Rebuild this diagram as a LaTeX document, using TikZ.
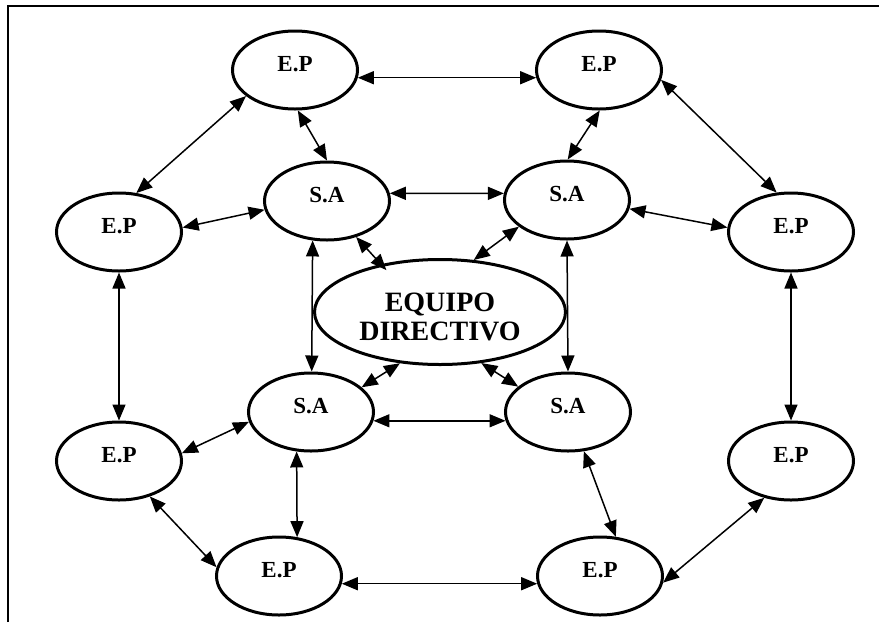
\documentclass[tikz,border=0pt]{standalone}
\usepackage{fontspec}
\setmainfont{Liberation Serif}
\usetikzlibrary{shapes.geometric,arrows.meta}
\tikzset{
  ep/.style={ellipse,draw,line width=3pt,minimum width=125pt,minimum height=78pt,
    font=\fontsize{23}{26}\selectfont\bfseries,text height=9pt,text depth=7pt},
  mainbox/.style={ellipse,draw,line width=3pt,minimum width=251pt,minimum height=105pt},
  maintext/.style={align=center,font=\fontsize{28}{29}\selectfont\bfseries,yshift=-5pt},
  link/.style={line width=1.5pt,{Triangle[length=16pt,width=13pt]}-{Triangle[length=16pt,width=13pt]}}
}
\begin{document}
\begin{tikzpicture}[x=1pt,y=1pt]
\useasboundingbox (0,0) rectangle (879,-622);
\draw[line width=1.2pt] (8,-622) -- (8,-6) -- (879,-6);
\node[ep] (ept1) at (295,-70) {E.P};
\node[ep] (ept2) at (599,-70) {E.P};
\node[ep] (sat1) at (327,-201) {S.A};
\node[ep] (sat2) at (567,-200) {S.A};
\node[ep] (epl1) at (119,-232) {E.P};
\node[ep] (epr1) at (791,-232) {E.P};
\node[mainbox,label={[maintext]center:{EQUIPO\\DIRECTIVO}}] (ed) at (440,-312) {};
\node[ep] (sab1) at (311,-412) {S.A};
\node[ep] (sab2) at (568,-412) {S.A};
\node[ep] (epl2) at (119,-461) {E.P};
\node[ep] (epr2) at (791,-461) {E.P};
\node[ep] (epb1) at (279,-576) {E.P};
\node[ep] (epb2) at (600,-576) {E.P};
\draw[link] (ept1.-7) -- (ept2.187);
\draw[link] (ept1.-86) -- (sat1.90);
\draw[link] (ept2.-89) -- (sat2.89);
\draw[link] (sat1.7) -- (sat2.174);
\draw[link] (ept1.208) -- (epl1.66);
\draw[link] (ept2.-9) -- (epr1.110);
\draw[link] (epl1.4) -- (sat1.188);
\draw[link] (sat2.-8) -- (epr1.176);
\draw[link,shorten >=-8pt] (sat1.-51) -- (ed.141);
\draw[link] (sat2.209) -- (ed.57);
\draw[link] (sat1.250) -- (sab1.89);
\draw[link] (sat2.south) -- (sab2.north);
\draw[link] (ed.232) -- (sab1.26);
\draw[link] (ed.-51) -- (sab2.153);
\draw[link] (sab1.-8) -- (sab2.188);
\draw[link] (epl1.south) -- (epl2.north);
\draw[link] (epr1.south) -- (epr2.north);
\draw[link] (epl2.7) -- (sab1.189);
\draw[link] (epl2.-49) -- (epb1.172);
\draw[link] (sab1.250) -- (epb1.65);
\draw[link] (epb1.-7) -- (epb2.187);
\draw[link] (sab2.-68) -- (epb2.68);
\draw[link] (epb2.-6) -- (epr2.234);
\end{tikzpicture}
\end{document}
